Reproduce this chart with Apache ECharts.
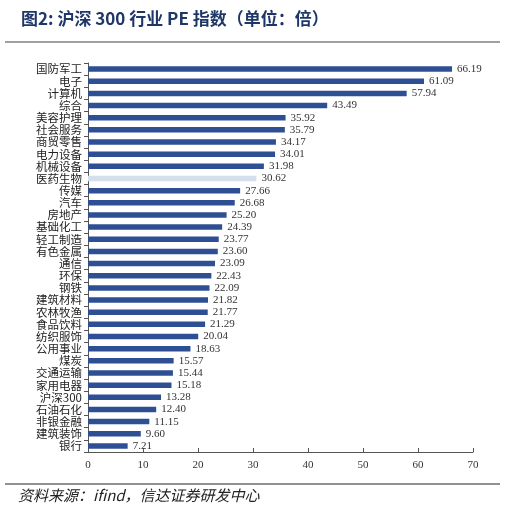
<!DOCTYPE html>
<html><head><meta charset="utf-8">
<script src="https://cdn.jsdelivr.net/npm/echarts@6/dist/echarts.min.js"></script>
<style>html,body{margin:0;padding:0;background:#fff}#c{width:505px;height:510px}</style>
</head><body><div id="c"></div>
<script>
const categories = ['国防军工','电子','计算机','综合','美容护理','社会服务','商贸零售','电力设备','机械设备','医药生物','传媒','汽车','房地产','基础化工','轻工制造','有色金属','通信','环保','钢铁','建筑材料','农林牧渔','食品饮料','纺织服饰','公用事业','煤炭','交通运输','家用电器','沪深300','石油石化','非银金融','建筑装饰','银行'];
const values = [66.19,61.09,57.94,43.49,35.92,35.79,34.17,34.01,31.98,30.62,27.66,26.68,25.20,24.39,23.77,23.60,23.09,22.43,22.09,21.82,21.77,21.29,20.04,18.63,15.57,15.44,15.18,13.28,12.40,11.15,9.60,7.21];
const highlight = '医药生物';
const xTicks = {min:0, max:70, interval:10};

const chart = echarts.init(document.getElementById('c'));
chart.setOption({
  animation:false,
  backgroundColor:'#fff',
  title:{text:'图2: 沪深 300 行业 PE 指数（单位：倍）', left:16, top:5,
    textStyle:{fontFamily:'Noto Sans CJK SC', fontWeight:'bold', fontSize:17, color:'#1f3768'}},
  graphic:[
    {type:'line', shape:{x1:5,y1:42,x2:500,y2:42}, style:{stroke:'#808080', lineWidth:1.5}},
    {type:'line', shape:{x1:5,y1:484,x2:500,y2:484}, style:{stroke:'#222', lineWidth:1}},
    {type:'text', left:18, top:488, style:{text:'资料来源：ifind，信达证券研发中心', font:'italic 15px "Noto Sans CJK SC"', fill:'#222'}}
  ],
  grid:{left:88, right:32, top:63, bottom:58, containLabel:false},
  xAxis:{type:'value', min:xTicks.min, max:xTicks.max, interval:xTicks.interval,
    axisLine:{show:true, lineStyle:{color:'#555'}}, axisTick:{show:true, length:4, inside:true, lineStyle:{color:'#555'}},
    splitLine:{show:false},
    axisLabel:{fontFamily:'Liberation Serif', fontSize:11, color:'#333', margin:8}},
  yAxis:{type:'category', data:categories, inverse:true,
    axisLine:{show:true, lineStyle:{color:'#555'}}, axisTick:{show:true, length:4, lineStyle:{color:'#555'}},
    axisLabel:{fontFamily:'Noto Sans CJK SC', fontSize:11.5, color:'#222', margin:6, interval:0}},
  series:[{type:'bar', barWidth:5.5,
    data:values.map((v,i)=>({value:v, itemStyle:{color: categories[i]===highlight ? '#d3dfeb' : '#2f4f95'}})),
    label:{show:true, position:'right', distance:5, fontFamily:'Liberation Serif', fontSize:11, color:'#333',
      formatter:p=>p.value.toFixed(2)}}]
});
</script></body></html>
